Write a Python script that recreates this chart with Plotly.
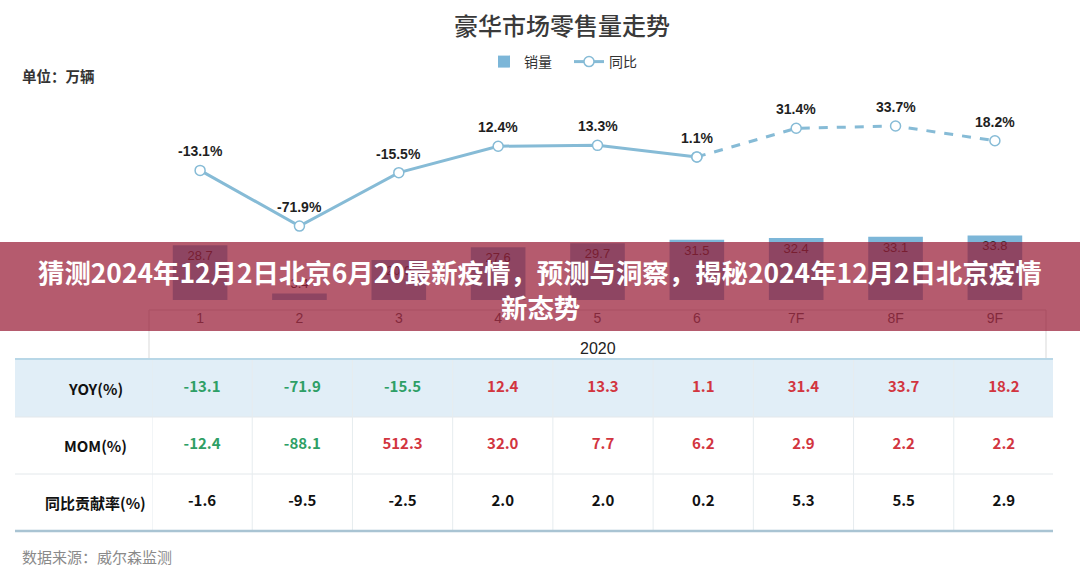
import plotly.graph_objects as go

# ---------------- data ----------------
categories = ["1", "2", "3", "4", "5", "6", "7F", "8F", "9F"]
sales = [28.7, 3.4, 20.9, 27.6, 29.7, 31.5, 32.4, 33.1, 33.8]
yoy = [-13.1, -71.9, -15.5, 12.4, 13.3, 1.1, 31.4, 33.7, 18.2]
mom = [-12.4, -88.1, 512.3, 32.0, 7.7, 6.2, 2.9, 2.2, 2.2]
contrib = [-1.6, -9.5, -2.5, 2.0, 2.0, 0.2, 5.3, 5.5, 2.9]
row_labels = ["YOY(%)", "MOM(%)", "同比贡献率(%)"]
year_label = "2020"
n_actual = 6

title_text = "豪华市场零售量走势"
unit_text = "单位：万辆"
source_text = "数据来源：威尔森监测"
banner_line1 = "猜测2024年12月2日北京6月20最新疫情，预测与洞察，揭秘2024年12月2日北京疫情"
banner_line2 = "新态势"

# ---------------- helpers ----------------
W, H = 1080, 575
def py(p):
    return 1 - p / H
def px(p):
    return p / W

CJK = "Noto Sans CJK SC"
ARIAL = "Liberation Sans"
BAR_C = "#7cb6d8"
LINE_C = "#86bbd6"
GREEN = "#2e9f66"
RED = "#d2353f"

fig = go.Figure()

fig.add_trace(go.Bar(
    x=categories, y=sales, name="销量",
    marker=dict(color=BAR_C, line=dict(width=0)),
    text=[f"{v:.1f}" for v in sales], textposition="auto",
    insidetextanchor="end",
    textfont=dict(family=ARIAL, size=13, color="#333333"),
    insidetextfont=dict(family=ARIAL, size=13, color="#333333"),
    outsidetextfont=dict(family=ARIAL, size=13, color="#333333"),
    cliponaxis=False,
    xaxis="x", yaxis="y",
))

fig.add_trace(go.Scatter(
    x=categories[:n_actual], y=yoy[:n_actual], name="同比",
    mode="lines+markers",
    line=dict(color=LINE_C, width=3),
    marker=dict(size=10, color="white", line=dict(color=LINE_C, width=1.5)),
    xaxis="x", yaxis="y2",
))
fig.add_trace(go.Scatter(
    x=categories[n_actual - 1:], y=yoy[n_actual - 1:], name="同比(预测)",
    mode="lines+markers", showlegend=False,
    line=dict(color=LINE_C, width=3, dash="dash"),
    marker=dict(size=10, color="white", line=dict(color=LINE_C, width=1.5)),
    xaxis="x", yaxis="y2",
))

annotations = []
for i, v in enumerate(yoy):
    annotations.append(dict(
        x=i, y=v, xref="x", yref="y2", yshift=19, showarrow=False,
        xanchor="center", yanchor="middle",
        text=f"<b>{v:.1f}%</b>",
        font=dict(family=ARIAL, size=14, color="#1f1f1f"),
    ))

# ---------------- table ----------------
def colour(v, signed):
    if not signed:
        return "#111111"
    return GREEN if v < 0 else RED

rows = [(row_labels[0], yoy, True), (row_labels[1], mom, True), (row_labels[2], contrib, False)]
for r, (label, vals, signed) in enumerate(rows):
    fig.add_trace(go.Scatter(
        x=categories, y=[label] * len(categories), mode="text",
        text=[f"{v:.1f}" for v in vals],
        textfont=dict(family=CJK, size=15, color=[colour(v, signed) for v in vals],
                      weight=600 if signed else 700),
        showlegend=False, hoverinfo="skip",
        xaxis="x2", yaxis="y3",
    ))
    annotations.append(dict(
        x=px(95), y=r, xref="paper", yref="y3", showarrow=False,
        xanchor="center", yanchor="middle",
        text=f"<b>{label}</b>", font=dict(family=CJK, size=15, color="#111111"),
    ))

shapes = []
# YOY row background
shapes.append(dict(type="rect", xref="paper", yref="y3", x0=px(15), x1=px(1053),
                   y0=-0.5, y1=0.5, fillcolor="#e1eef7", line=dict(width=0), layer="below"))
# row separators
for yb in [0.5, 1.5]:
    shapes.append(dict(type="line", xref="paper", yref="y3", x0=px(15), x1=px(1053),
                       y0=yb, y1=yb, line=dict(color="#e3e8eb", width=1)))
# column separators
for i in range(len(categories)):
    shapes.append(dict(type="line", xref="x2", yref="y3 domain", x0=i - 0.5, x1=i - 0.5,
                       y0=0, y1=1, line=dict(color="#e6ecef", width=1)))
# top / bottom borders
shapes.append(dict(type="line", xref="paper", yref="paper", x0=px(15), x1=px(1053),
                   y0=py(359), y1=py(359), line=dict(color="#b8d7e7", width=2)))
shapes.append(dict(type="line", xref="paper", yref="paper", x0=px(15), x1=px(1053),
                   y0=py(531), y1=py(531), line=dict(color="#a9c4d3", width=2.5)))
# category box: top line and sides
shapes.append(dict(type="line", xref="x domain", yref="paper", x0=0, x1=1,
                   y0=py(310), y1=py(310), line=dict(color="#d9d9d9", width=1)))
for xd in [0, 1]:
    shapes.append(dict(type="line", xref="x domain", yref="paper", x0=xd, x1=xd,
                       y0=py(358), y1=py(310), line=dict(color="#d9d9d9", width=1)))
# banner
shapes.append(dict(type="rect", xref="paper", yref="paper", x0=0, x1=1,
                   y0=py(331), y1=py(242), fillcolor="rgba(150,22,48,0.70)",
                   line=dict(width=0), layer="above"))

annotations += [
    dict(x=0.5, y=py(348), xref="x domain", yref="paper", showarrow=False, text=year_label,
         xanchor="center", yanchor="middle",
         font=dict(family=ARIAL, size=16, color="#222222")),
    dict(x=px(562), y=py(25), xref="paper", yref="paper", showarrow=False, text=title_text,
         xanchor="center", yanchor="middle",
         font=dict(family=CJK, size=24, color="#3a3a3a", weight=500)),
    dict(x=px(20), y=py(75), xref="paper", yref="paper", xanchor="left", yanchor="middle",
         showarrow=False,
         text=f"<b>{unit_text}</b>", font=dict(family=CJK, size=14.5, color="#333333")),
    dict(x=px(20), y=py(556), xref="paper", yref="paper", xanchor="left", yanchor="middle",
         showarrow=False,
         text=source_text, font=dict(family=CJK, size=15, color="#8a8a8a")),
    dict(x=0.5, y=py(271), xref="paper", yref="paper", showarrow=False,
         xanchor="center", yanchor="middle",
         text=f"<b>{banner_line1}</b>", font=dict(family=CJK, size=26.4, color="white")),
    dict(x=0.5, y=py(306), xref="paper", yref="paper", showarrow=False,
         xanchor="center", yanchor="middle",
         text=f"<b>{banner_line2}</b>", font=dict(family=CJK, size=26.4, color="white")),
]

fig.update_layout(
    width=W, height=H, autosize=False,
    margin=dict(l=0, r=0, t=0, b=0),
    paper_bgcolor="white", plot_bgcolor="white",
    font=dict(family=CJK, color="#333333"),
    bargap=0.45,
    showlegend=True,
    legend=dict(orientation="h", x=px(484), xanchor="left", y=py(62), yanchor="middle",
                entrywidth=40, entrywidthmode="pixels",
                font=dict(family=CJK, size=14, color="#333333"), bgcolor="rgba(0,0,0,0)"),
    xaxis=dict(domain=[px(149), px(1046)], type="category", anchor="y",
               showline=False, ticks="",
               showgrid=False, zeroline=False, ticklabelstandoff=0,
               tickfont=dict(family=ARIAL, size=14, color="#595959")),
    yaxis=dict(domain=[py(308), py(100)], range=[-4.19, 104.7], visible=False, fixedrange=True),
    yaxis2=dict(overlaying="y", range=[-158.4, 61.2], visible=False),
    xaxis2=dict(domain=[px(152), px(1054)], anchor="y3", type="category",
                range=[-0.5, len(categories) - 0.5], visible=False),
    yaxis3=dict(domain=[py(531), py(360)], anchor="x2", type="category",
                categoryorder="array", categoryarray=row_labels,
                range=[len(row_labels) - 0.5, -0.5], visible=False),
    shapes=shapes, annotations=annotations,
)

fig.write_html("out.html", post_script="document.body.style.margin='0';",
               config={"displayModeBar": False})
